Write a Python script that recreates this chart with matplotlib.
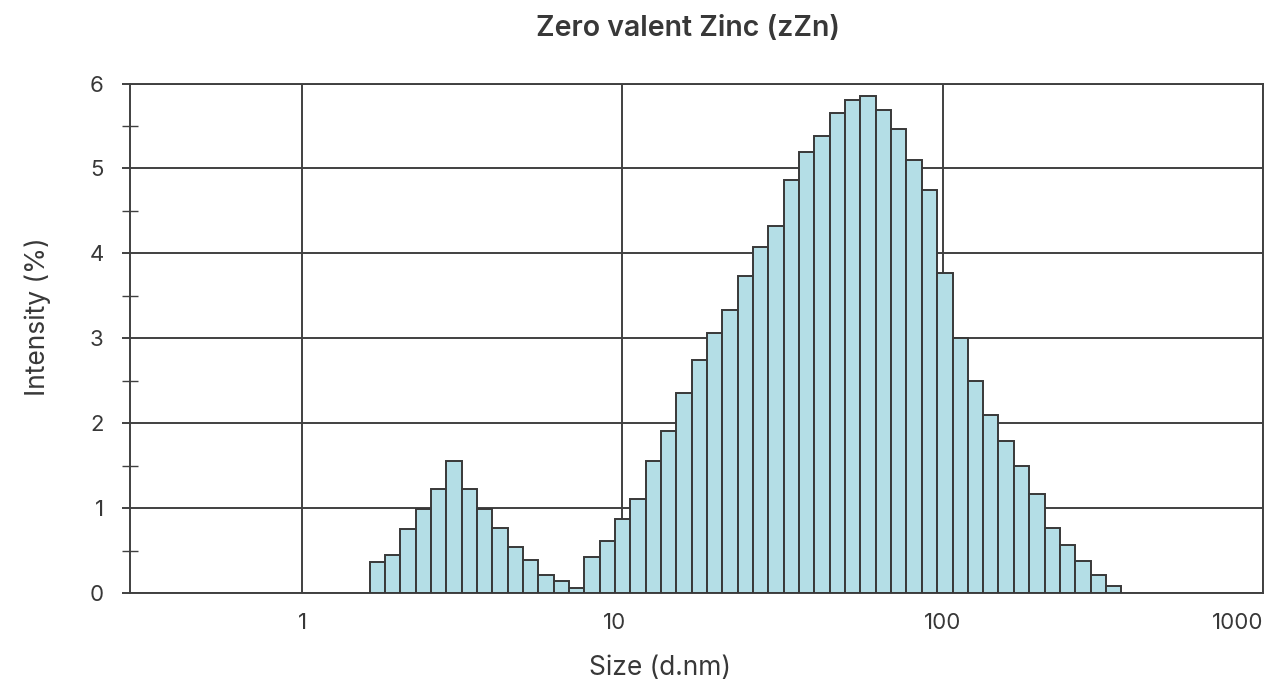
import matplotlib
matplotlib.use("Agg")
import matplotlib.pyplot as plt
import matplotlib.transforms as mtransforms
import numpy as np
from matplotlib.ticker import FixedLocator, NullLocator

plt.rcParams['font.family'] = ['Inter', 'DejaVu Sans']

# size classes (bin edges, d.nm)
size_edges = [1.623, 1.812, 2.024, 2.260, 2.523, 2.817, 3.146, 3.513, 3.922,
              4.379, 4.890, 5.460, 6.097, 6.808, 7.602, 8.488, 9.478, 10.58,
              11.82, 13.20, 14.73, 16.45, 18.37, 20.51, 22.90, 25.57, 28.56,
              31.89, 35.60, 39.76, 44.39, 49.57, 55.35, 61.80, 69.01, 77.05,
              86.04, 96.07, 107.3, 119.8, 133.8, 149.3, 166.8, 186.2, 207.9,
              232.2, 259.2, 289.5, 323.2, 360.9]

# intensity per class (%)
intensity = [0.37, 0.45, 0.76, 0.99, 1.23, 1.56, 1.23, 0.99, 0.77, 0.55, 0.39,
             0.22, 0.14, 0.06,
             0.43, 0.61, 0.87, 1.11, 1.56, 1.91, 2.36, 2.75, 3.06, 3.33, 3.73,
             4.07, 4.32, 4.86, 5.19, 5.38, 5.65, 5.80, 5.85, 5.69, 5.46, 5.10,
             4.75, 3.77, 3.01, 2.50, 2.10, 1.79, 1.50, 1.17, 0.77, 0.57, 0.38,
             0.22, 0.09]

x_ticks = [1, 10, 100, 1000]
x_ticklabels = ["1", "10", "100", "1000"]
y_ticks = [0, 1, 2, 3, 4, 5, 6]

text_col = "#383838"
line_col = "#404040"

fig = plt.figure(figsize=(12.68, 6.82), dpi=100)
ax = fig.add_axes([130 / 1268, 1 - 593.3 / 682, (1263 - 130) / 1268, (593.3 - 83.5) / 682])

edges = np.array(size_edges)
ax.bar(edges[:-1], intensity, width=np.diff(edges), align='edge',
       color="#b4dee6", edgecolor="#383838", linewidth=1.4, zorder=3)

ax.set_xscale('log')
ax.set_xlim(0.29, 1000)
ax.set_ylim(0, 6)

ax.xaxis.set_major_locator(FixedLocator(x_ticks))
ax.xaxis.set_minor_locator(NullLocator())
ax.set_xticklabels(x_ticklabels)
ax.tick_params(axis='x', which='major', length=0, pad=14, labelsize=16, labelcolor=text_col)
xlabels = ax.get_xticklabels()
xlabels[-1].set_horizontalalignment('right')
# the "10" label sits a little left of its gridline in the original
shift = mtransforms.ScaledTranslation(-8 / 100, 0, fig.dpi_scale_trans)
xlabels[1].set_transform(xlabels[1].get_transform() + shift)

ax.set_yticks(y_ticks)
ax.set_yticks(np.arange(0.5, 6, 1), minor=True)
ax.tick_params(axis='y', which='major', direction='out', length=6, width=1.4,
               color=line_col, pad=13, labelsize=16, labelcolor=text_col)
ax.tick_params(axis='y', which='minor', direction='inout', length=11, width=1.0,
               color=line_col)

ax.grid(True, which='major', color=line_col, linewidth=1.4, zorder=0)
ax.set_axisbelow(True)
for s in ax.spines.values():
    s.set_color(line_col)
    s.set_linewidth(1.4)

fig.text(660 / 1268, 1 - 668 / 682, "Size (d.nm)", fontsize=19, color=text_col,
         ha='center', va='center')
fig.text(38 / 1268, 1 - 317 / 682, "Intensity (%)", rotation=90, fontsize=19,
         color=text_col, ha='center', va='center')
fig.text(688 / 1268, 1 - 28 / 682, "Zero valent Zinc (zZn)", fontsize=20.5,
         fontweight='semibold', color=text_col, ha='center', va='center')

fig.savefig("out.png", dpi=100)
